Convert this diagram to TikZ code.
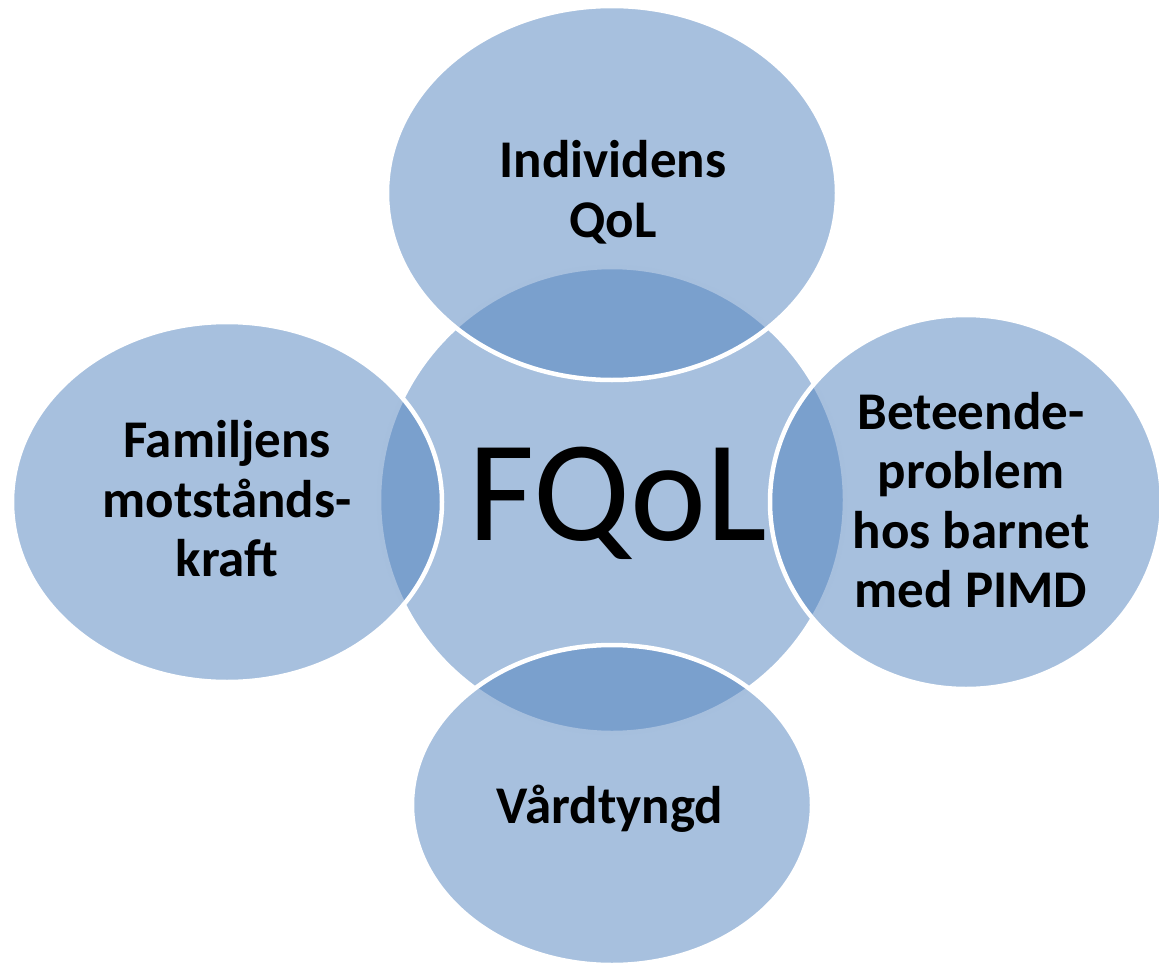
\documentclass[tikz,border=0pt]{standalone}
\usepackage{fontspec}
\setmainfont{Carlito}
\definecolor{accent}{HTML}{4F81BD}
\begin{document}
\begin{tikzpicture}[x=1pt,y=-1pt,
  blob/.style={fill=accent, fill opacity=0.5, draw=white, draw opacity=1, line width=4.5pt},
  lbl/.style={font=\bfseries\fontsize{53}{59.5}\selectfont, align=center, inner sep=0pt, text=black, text opacity=1},
  big/.style={font=\fontsize{144}{150}\selectfont, inner sep=0pt, text=black, text opacity=1}]
\useasboundingbox (0,0) rectangle (1159,966);
% shapes, centre first
\path[blob] (612,500) circle [radius=233];
\path[blob] (612,193) ellipse [x radius=225, y radius=187];
\path[blob] (227,502) ellipse [x radius=215, y radius=180];
\path[blob] (966,502) ellipse [x radius=196, y radius=187];
\path[blob] (612,805) ellipse [x radius=200, y radius=160];
% labels
\node[big, anchor=base] (fqol) at (618,540) {FQoL};
\node[lbl] (indiv) at (613,192) {Individens\\QoL};
\node[lbl] (famil) at (227,499) {Familjens\\motstånds-\\kraft};
\node[lbl] (betee) at (971,500) {Beteende-\\problem\\hos barnet\\med PIMD};
\node[lbl, anchor=base] (vard) at (610,823) {Vårdtyngd};
\end{tikzpicture}
\end{document}
